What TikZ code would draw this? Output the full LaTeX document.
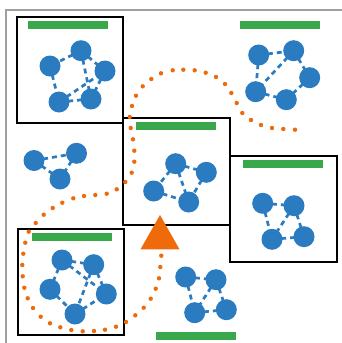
\documentclass[tikz,border=0pt]{standalone}
\usepackage{tikz}
\definecolor{nblue}{HTML}{2A7BC0}
\definecolor{bgreen}{HTML}{39A84A}
\definecolor{torange}{HTML}{EE6A0B}
\definecolor{framegray}{HTML}{A0A0A0}
\tikzset{
  dot/.style={circle,fill=nblue,draw=none,minimum size=21pt,inner sep=0pt},
  link/.style={draw=nblue,line width=2.7pt,dash pattern=on 5pt off 4pt,shorten <=-1.5pt,shorten >=-1.5pt},
  panel/.style={draw=black,line width=1.3pt},
  bar/.style={fill=bgreen,draw=none},
  trail/.style={fill=torange},
}
\begin{document}
\begin{tikzpicture}[x=1pt,y=-1pt]
\useasboundingbox (0,0) rectangle (342,343);
\fill[white] (0,0) rectangle (342,343);
% frame
\draw[framegray,line width=1.5pt] (6,343) -- (6,10) -- (342,10);
% panels
\draw[panel] (17,17) rectangle (123,123);
\draw[panel] (123,118) rectangle (230,225);
\draw[panel] (230,156) rectangle (337,262);
\draw[panel] (18,229) rectangle (124,335);
% green bars
\fill[bar] (28,21) rectangle (108,29);
\fill[bar] (240,21) rectangle (320,29);
\fill[bar] (136,122) rectangle (216,130);
\fill[bar] (243,160) rectangle (323,168);
\fill[bar] (32,233) rectangle (112,241);
\fill[bar] (156,332) rectangle (236,340);
% dotted trail
\foreach \p in {(295,129.7),(283.3,129),(272,128),(261,125),(251,120),(242.3,113),(236.7,103),(231.3,93),(225,84),(216,77),(205.7,72.7),(194.7,70.3),(183.3,69.7),(172.7,70.3),
(161,73.3),(151.3,79),(142.7,86.3),(136,95.7),(132,106),(129.7,117),(130.7,128),(133,139.3),(134.3,150.7),(134.3,161.7),
(131.7,172.7),(125.3,182),(116.7,189.3),(106.7,193.7),(95.3,195),(84,196),(73.3,198.3),(62.3,202.7),(52.7,208),(43.7,214.7),(35.7,223),(28.7,231.7),(25.3,242.7),(23.3,253.7),(22.3,265),(22.7,276.3),(24.3,287.7),(27.7,298.3),(33,308),(40.7,316.7),(50,323.3),(60.3,327.3),(71.3,330),(82.7,331.3),(94,331),(105,329.7),(116,326.7),(126,322),(135.3,315.3),(143.7,307.7),(150.7,298.7),(155.7,288.7),(159,278.3),(160.3,267),(161.3,255.7)}
  \fill[trail] \p circle (2.2);
% triangle
\fill[torange] (160,215) -- (179.5,249.3) -- (140.5,249.3) -- cycle;
% group 1 (top-left panel)
\node[dot] (a1) at (81,50.7) {};
\node[dot] (a2) at (50,66) {};
\node[dot] (a3) at (105,71) {};
\node[dot] (a4) at (59,102) {};
\node[dot] (a5) at (91,99) {};
% group 2 (top-right)
\node[dot] (b1) at (258.7,55) {};
\node[dot] (b2) at (293.7,50.7) {};
\node[dot] (b3) at (309.7,77.7) {};
\node[dot] (b4) at (255.7,91.7) {};
\node[dot] (b5) at (286.3,99.7) {};
% group 3 (middle-left)
\node[dot] (c1) at (34,160.5) {};
\node[dot] (c2) at (76.5,153.3) {};
\node[dot] (c3) at (60,179) {};
% group 4 (center panel)
\node[dot] (d1) at (175.7,163.7) {};
\node[dot] (d2) at (206.3,172.3) {};
\node[dot] (d3) at (153.7,191) {};
\node[dot] (d4) at (188.7,202) {};
% group 5 (right panel)
\node[dot] (e1) at (262.7,203.3) {};
\node[dot] (e2) at (294,205.7) {};
\node[dot] (e3) at (272,239.3) {};
\node[dot] (e4) at (304,236.7) {};
% group 6 (bottom-left panel)
\node[dot] (f1) at (62,260) {};
\node[dot] (f2) at (93.7,264.7) {};
\node[dot] (f3) at (50,289.3) {};
\node[dot] (f4) at (106.3,294) {};
\node[dot] (f5) at (75,314) {};
% group 7 (bottom-center)
\node[dot] (g1) at (185.7,277) {};
\node[dot] (g2) at (216,279.7) {};
\node[dot] (g3) at (194.7,312.7) {};
\node[dot] (g4) at (226.3,309.7) {};
% links
\foreach \u/\v in {a1/a2,a1/a3,a1/a5,a2/a4,a4/a5,a3/a5,a4/a3,
  b1/b2,b1/b4,b2/b3,b2/b4,b4/b5,b3/b5,
  c1/c2,c2/c3,c1/c3,
  d1/d2,d1/d3,d1/d4,d3/d4,d2/d4,
  e1/e2,e1/e3,e2/e3,e2/e4,e3/e4,
  f1/f2,f1/f3,f2/f4,f3/f5,f5/f4,f1/f4,f2/f5,
  g1/g2,g1/g3,g2/g3,g2/g4,g3/g4}
  \draw[link] (\u) -- (\v);
\end{tikzpicture}
\end{document}
